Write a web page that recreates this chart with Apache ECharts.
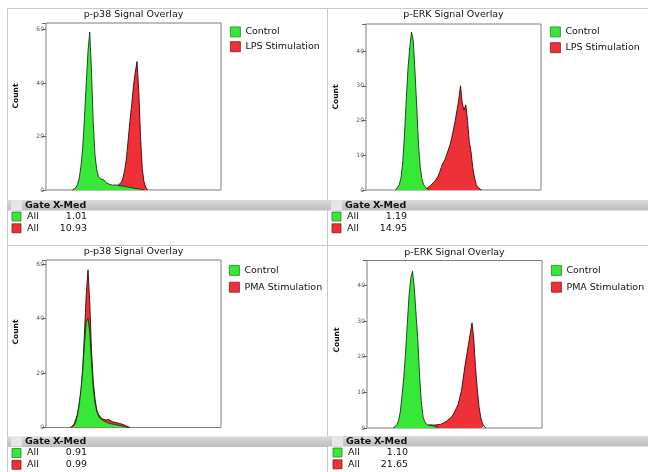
<!DOCTYPE html>
<html><head><meta charset="utf-8">
<script src="https://cdn.jsdelivr.net/npm/echarts@6/dist/echarts.min.js"></script>
<style>html,body{margin:0;padding:0;background:#fff}#c{width:648px;height:472px}</style>
</head><body><div id="c"></div>
<script>
// ---------- data ----------
const panelTitles = ['p-p38 Signal Overlay', 'p-ERK Signal Overlay', 'p-p38 Signal Overlay', 'p-ERK Signal Overlay'];
const controlName = 'Control';
const stimNames = ['LPS Stimulation', 'LPS Stimulation', 'PMA Stimulation', 'PMA Stimulation'];
const yMax = [62.4, 47.8, 61.6, 47.0];
const yInterval = [20, 10, 20, 10];
const xChannelMax = 100;

// panel 1: p-p38, control vs LPS
const ctrl1Start = 15;
const ctrl1Counts = [0, 0.3, 0.8, 2, 4.5, 9, 16, 27, 40, 52, 59, 44, 25, 13, 7.5, 5, 4.2, 3.5, 3.8, 2.9, 2.6, 2.2, 2.4, 1.8, 1.6, 1.9, 1.4, 1.6, 1.3, 1.5, 1.1, 1.2, 0.9, 1.0, 0.8, 0.7, 0.6, 0.5, 0.4, 0.3, 0.2, 0];
const stim1Start = 33;
const stim1Counts = [0, 0.4, 0.7, 0.9, 1.1, 0.9, 1.3, 1.5, 1.7, 2.2, 2.8, 4.5, 7.5, 12, 19, 26, 32, 39, 44, 48, 37, 20, 8, 3, 1, 0];

// panel 2: p-ERK, control vs LPS
const ctrl2Start = 17;
const ctrl2Counts = [0, 0.5, 1.5, 3.5, 8, 16, 26, 35, 41, 45.5, 43, 34, 24, 13, 6.5, 3, 1.5, 0.7, 0.3, 0];
const stim2Start = 33;
const stim2Counts = [0, 0.3, 0.6, 1.0, 1.4, 1.8, 2.3, 3.0, 3.8, 5.0, 6.5, 7.8, 8.6, 10, 11.5, 13, 15, 17.5, 20, 23, 26, 30, 25, 23, 24.5, 20, 14, 11, 6.5, 3.5, 1.5, 0.7, 0.3, 0];

// panel 3: p-p38, control vs PMA
const ctrl3Start = 15;
const ctrl3Counts = [0, 0.8, 2, 4.5, 8.5, 14, 21, 31, 39, 40, 35, 24, 14.5, 9, 6, 4.2, 3.3, 2.8, 2.4, 2.0, 1.8, 1.6, 1.4, 1.3, 1.1, 1.0, 0.9, 0.8, 0.6, 0.5, 0.4, 0.2, 0];
const stim3Start = 14;
const stim3Counts = [0, 0.4, 1.2, 3, 5, 9, 13.5, 22, 35, 49, 58, 46, 28, 17, 10.5, 6.5, 4.8, 4, 3.2, 3.4, 2.8, 2.6, 2.9, 2.3, 2.1, 2.4, 1.8, 2.0, 1.5, 1.3, 1.1, 0.8, 0.5, 0.2, 0];

// panel 4: p-ERK, control vs PMA
const ctrl4Start = 15;
const ctrl4Counts = [0, 0.3, 0.8, 2, 4.5, 9, 14, 21, 29, 37, 42, 44, 39.5, 32, 25, 15, 7.5, 3.2, 1.8, 1.0, 0.9, 0.7, 0.8, 0.6, 0.5, 0.3, 0];
const stim4Start = 32;
const stim4Counts = [0, 0.3, 0.5, 0.7, 0.9, 1.0, 0.8, 1.1, 0.9, 1.2, 1.0, 1.3, 1.5, 1.7, 2.1, 2.6, 3.0, 3.6, 4.5, 5.5, 6.5, 8.5, 10.5, 14, 17.5, 20.5, 23.5, 26.5, 29.5, 25, 17, 11, 6, 3, 1.2, 0.5, 0];

// stats tables
const tableHeader = ['Gate', 'X-Med'];
const gateNames = ['All', 'All'];
const xMedValues = [['1.01', '10.93'], ['1.19', '14.95'], ['0.91', '0.99'], ['1.10', '21.65']];

// ---------- layout / style ----------
const GREEN = '#38e838', RED = '#ee3038';
const GREEN_EDGE = '#123812', RED_EDGE = '#3a0606';
const TEXT = '#111';
const FONT = '"DejaVu Sans", Verdana, sans-serif';
const grids = [
  {left: 46, top: 23, width: 175, height: 167},
  {left: 366, top: 24, width: 175, height: 166},
  {left: 46, top: 260, width: 175, height: 167.5},
  {left: 367, top: 260.5, width: 175, height: 167.5}
];
const titleY = [10, 10, 247, 248];
const legendPos = [{left: 230, top: 26.5, gap: 4}, {left: 550, top: 26.5, gap: 5}, {left: 229, top: 265, gap: 6}, {left: 551, top: 265, gap: 6}];
const countPos = [[16, 96], [336, 97], [16, 332], [337, 340]];
const panelBox = [[7, 8, 327, 245], [327, 8, 648, 245], [7, 245, 327, 472], [327, 245, 648, 472]];
const tableX = [12, 332, 12, 333];
const tableY = [200, 200, 436.5, 436];

const ctrlSets = [[ctrl1Start, ctrl1Counts], [ctrl2Start, ctrl2Counts], [ctrl3Start, ctrl3Counts], [ctrl4Start, ctrl4Counts]];
const stimSets = [[stim1Start, stim1Counts], [stim2Start, stim2Counts], [stim3Start, stim3Counts], [stim4Start, stim4Counts]];
const pairs = (start, counts) => counts.map((c, i) => [start + i, c]);

const option = {
  animation: false,
  backgroundColor: '#fff',
  title: [], grid: [], xAxis: [], yAxis: [], series: [], legend: [], graphic: []
};

for (let p = 0; p < 4; p++) {
  const g = grids[p];
  option.grid.push({left: g.left, top: g.top, width: g.width, height: g.height, show: true,
    borderColor: '#7d7d7d', borderWidth: 1, backgroundColor: 'rgba(0,0,0,0)'});
  option.title.push({text: panelTitles[p], left: g.left + g.width / 2, top: titleY[p], textAlign: 'center', padding: 0,
    textStyle: {fontFamily: FONT, fontSize: 9.5, fontWeight: 'normal', color: TEXT}});
  option.xAxis.push({type: 'value', gridIndex: p, min: 0, max: xChannelMax,
    axisLine: {show: false}, axisTick: {show: false}, axisLabel: {show: false}, splitLine: {show: false}});
  const iv = yInterval[p];
  option.yAxis.push({type: 'value', gridIndex: p, min: 0, max: yMax[p], interval: iv,
    axisLine: {show: false},
    axisTick: {show: true, length: 4, lineStyle: {color: '#666', width: 1}},
    axisLabel: {fontSize: 6, color: '#555', margin: 2, fontFamily: FONT,
      formatter: v => (Math.abs(v % iv) < 1e-9 ? String(v) : '')},
    splitLine: {show: false}});
  option.series.push({type: 'line', name: stimNames[p], xAxisIndex: p, yAxisIndex: p,
    data: pairs(stimSets[p][0], stimSets[p][1]), symbol: 'none', silent: true, z: 2,
    lineStyle: {color: RED_EDGE, width: 0.9}, itemStyle: {color: RED}, areaStyle: {color: RED, opacity: 1}});
  option.series.push({type: 'line', name: controlName, xAxisIndex: p, yAxisIndex: p,
    data: pairs(ctrlSets[p][0], ctrlSets[p][1]), symbol: 'none', silent: true, z: 3,
    lineStyle: {color: GREEN_EDGE, width: 0.9}, itemStyle: {color: GREEN}, areaStyle: {color: GREEN, opacity: 1}});
  const lp = legendPos[p];
  option.legend.push({orient: 'vertical', left: lp.left, top: lp.top, padding: 0, itemGap: lp.gap,
    itemWidth: 10, itemHeight: 10, selectedMode: false,
    textStyle: {fontFamily: FONT, fontSize: 9.5, color: TEXT},
    data: [
      {name: controlName, icon: 'rect', itemStyle: {color: GREEN, borderColor: '#1f8a1f', borderWidth: 0.8}},
      {name: stimNames[p], icon: 'rect', itemStyle: {color: RED, borderColor: '#8a1a1a', borderWidth: 0.8}}
    ]});

  // panel frame
  const b = panelBox[p];
  option.graphic.push({type: 'rect', silent: true, z: 0, shape: {x: b[0] + 0.5, y: b[1] + 0.5, width: b[2] - b[0], height: b[3] - b[1]},
    style: {fill: 'none', stroke: '#c9c9c9', lineWidth: 1}});
  // Count label
  option.graphic.push({type: 'text', silent: true, x: countPos[p][0], y: countPos[p][1], rotation: Math.PI / 2,
    style: {text: 'Count', font: 'bold 7.5px ' + FONT, fill: TEXT, textAlign: 'center', textVerticalAlign: 'middle', align: 'center', verticalAlign: 'middle'}});
  // stats table header bar
  const tx = tableX[p], ty = tableY[p];
  option.graphic.push({type: 'rect', silent: true, z: 1, shape: {x: b[0], y: ty, width: b[2] - b[0], height: 10.5},
    style: {fill: new echarts.graphic.LinearGradient(0, 0, 0, 1, [{offset: 0, color: '#dadada'}, {offset: 1, color: '#bdbdbd'}])}});
  option.graphic.push({type: 'rect', silent: true, z: 2, shape: {x: tx - 1, y: ty + 0.5, width: 11, height: 9.5},
    style: {fill: '#e6e6e6'}});
  option.graphic.push({type: 'text', silent: true, z: 3, x: tx + 13, y: ty + 5.5,
    style: {text: tableHeader[0], font: 'bold 9.5px ' + FONT, fill: TEXT, textVerticalAlign: 'middle', verticalAlign: 'middle'}});
  option.graphic.push({type: 'text', silent: true, z: 3, x: tx + 41, y: ty + 5.5,
    style: {text: tableHeader[1], font: 'bold 9.5px ' + FONT, fill: TEXT, textVerticalAlign: 'middle', verticalAlign: 'middle'}});
  const rowColors = [[GREEN, '#1f8a1f'], [RED, '#8a1a1a']];
  for (let r = 0; r < 2; r++) {
    const ry = ty + 12 + r * 11.8;
    option.graphic.push({type: 'rect', silent: true, z: 3, shape: {x: tx, y: ry, width: 9, height: 9},
      style: {fill: rowColors[r][0], stroke: rowColors[r][1], lineWidth: 0.8}});
    option.graphic.push({type: 'text', silent: true, z: 3, x: tx + 15, y: ry + 4.5,
      style: {text: gateNames[r], font: '9.5px ' + FONT, fill: TEXT, textVerticalAlign: 'middle', verticalAlign: 'middle'}});
    option.graphic.push({type: 'text', silent: true, z: 3, x: tx + 75, y: ry + 4.5,
      style: {text: xMedValues[p][r], font: '9.5px ' + FONT, fill: TEXT, textAlign: 'right', align: 'right', textVerticalAlign: 'middle', verticalAlign: 'middle'}});
  }
}

const chart = echarts.init(document.getElementById('c'), null, {renderer: 'canvas'});
chart.setOption(option);
</script>
</body></html>
